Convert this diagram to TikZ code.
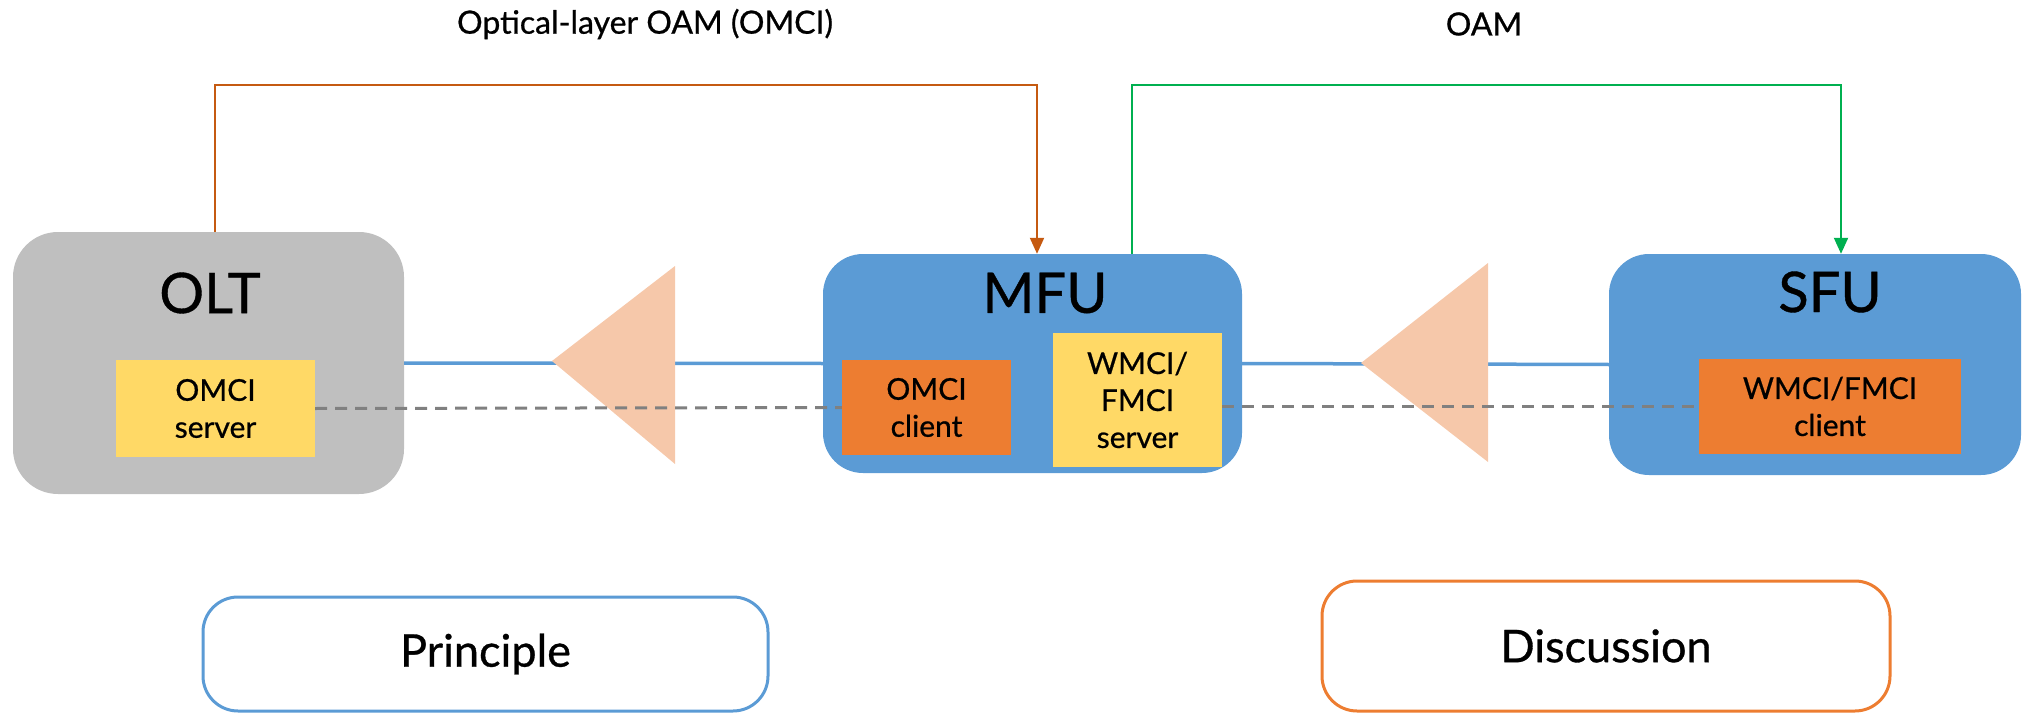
\documentclass[tikz,border=0pt]{standalone}
\usepackage{fontspec}
\setmainfont{Lato}[FakeBold=0.7]
\usetikzlibrary{arrows.meta}
\definecolor{oltgray}{HTML}{BFBFBF}
\definecolor{ublue}{HTML}{5B9BD5}
\definecolor{uyellow}{HTML}{FFD966}
\definecolor{uorange}{HTML}{ED7D31}
\definecolor{upeach}{HTML}{F6C8AA}
\definecolor{lorange}{HTML}{C55A11}
\definecolor{lgreen}{HTML}{00B050}
\definecolor{dgray}{HTML}{808080}
\tikzset{
  unit/.style={rounded corners=40pt, inner sep=0pt, draw=none},
  unitlabel/.style={font=\fontsize{56}{60}\selectfont, inner sep=0pt},
  inbox/.style={inner sep=0pt, align=center, font=\fontsize{30}{37}\selectfont},
  fiber/.style={ublue, line width=3.5pt},
  mgmt/.style={dgray, line width=3pt, dash pattern=on 12pt off 8pt},
  amp/.style={fill=upeach, draw=none},
  oamline/.style={line width=2pt, -{Triangle[length=16pt,width=14pt]}},
  tag/.style={rounded corners=35pt, line width=3pt, fill=white, font=\fontsize{45}{50}\selectfont},
  toplabel/.style={font=\fontsize{32}{36}\selectfont, inner sep=0pt}
}
\begin{document}
\begin{tikzpicture}[x=1pt,y=-1pt]
\useasboundingbox (0,0) rectangle (2023,714);
% units
\node[unit, fill=oltgray, minimum width=391pt, minimum height=262pt, rounded corners=45pt] (OLT) at (208.5,363) {};
\node[unit, fill=ublue, minimum width=419pt, minimum height=219pt] (MFU) at (1032.5,363.5) {};
\node[unit, fill=ublue, minimum width=412pt, minimum height=221pt] (SFU) at (1815,364.5) {};
\node[unitlabel] (OLTl) at (210,293) {OLT};
\node[unitlabel] (MFUl) at (1045,293) {MFU};
\node[unitlabel] (SFUl) at (1830,292) {SFU};
% inner boxes
\node[inbox, fill=uyellow, minimum width=199pt, minimum height=97pt] (OS) at (215.5,408.5) {OMCI\\server};
\node[inbox, fill=uorange, minimum width=169pt, minimum height=95pt] (OC) at (926.5,407.5) {OMCI\\client};
\node[inbox, fill=uyellow, minimum width=169pt, minimum height=134pt] (WS) at (1137.5,400) {WMCI/\\FMCI\\server};
\node[inbox, fill=uorange, minimum width=262pt, minimum height=95pt] (WC) at (1830,406.5) {WMCI/FMCI\\client};
% fibre
\draw[fiber] (OLT.east) -- (MFU.west);
\draw[fiber] (MFU.east) -- (SFU.west);
% amplifiers
\path[amp] (552,361) -- (675,266) -- (675,464) -- cycle;
\path[amp] (1361,363) -- (1488,263) -- (1488,462) -- cycle;
% management channels
\draw[mgmt] (OS.east) -- (OC.west);
\draw[mgmt] (WS.east |- WC.west) -- (WC.west);
% OAM connectors
\coordinate (c1) at (215,85);
\coordinate (c2) at (1132,85);
\draw[oamline, lorange] ([xshift=6.5pt]OLT.north) -- (c1) -| ([xshift=4.5pt]MFU.north);
\draw[oamline, lgreen] ([xshift=99.5pt]MFU.north) -- (c2) -| ([xshift=26pt]SFU.north);
\node[toplabel] (L1) at (645,24) {Optical-layer OAM (OMCI)};
\node[toplabel] (L2) at (1484,24) {OAM};
% bottom tags
\node[tag, draw=ublue, minimum width=565pt, minimum height=114pt] (P) at (485.5,654) {Principle};
\node[tag, draw=uorange, minimum width=568pt, minimum height=130pt] (D) at (1606,646) {Discussion};
\end{tikzpicture}
\end{document}
